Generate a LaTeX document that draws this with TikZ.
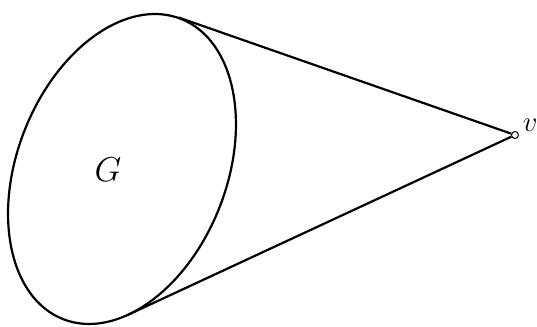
\documentclass[tikz,border=0pt]{standalone}
\usepackage{tikz}
\usetikzlibrary{positioning}

\begin{document}
\begin{tikzpicture}[
    x=0.5pt,y=0.5pt,
    vert/.style={draw,circle,fill=white,inner sep=0pt,minimum size=3.5pt,line width=0.5pt},
    side/.style={line width=1.1pt}
]
\useasboundingbox (0,0) rectangle (537,327);
\draw[side,rotate around={68.6:(122,158)}] (122,158) ellipse [x radius=161.3,y radius=104.8];
\node[font=\LARGE] (G) at (108,157) {$G$};
\coordinate (top) at (178.6,309.5);
\coordinate (bot) at (128,12.2);
\node[vert] (v) at (515,192) {};
\node[above right=-3pt and -1pt of v,font=\Large] (vlab) {$v$};

\draw[side] (top) -- (v);
\draw[side] (bot) -- (v);
\end{tikzpicture}
\end{document}
